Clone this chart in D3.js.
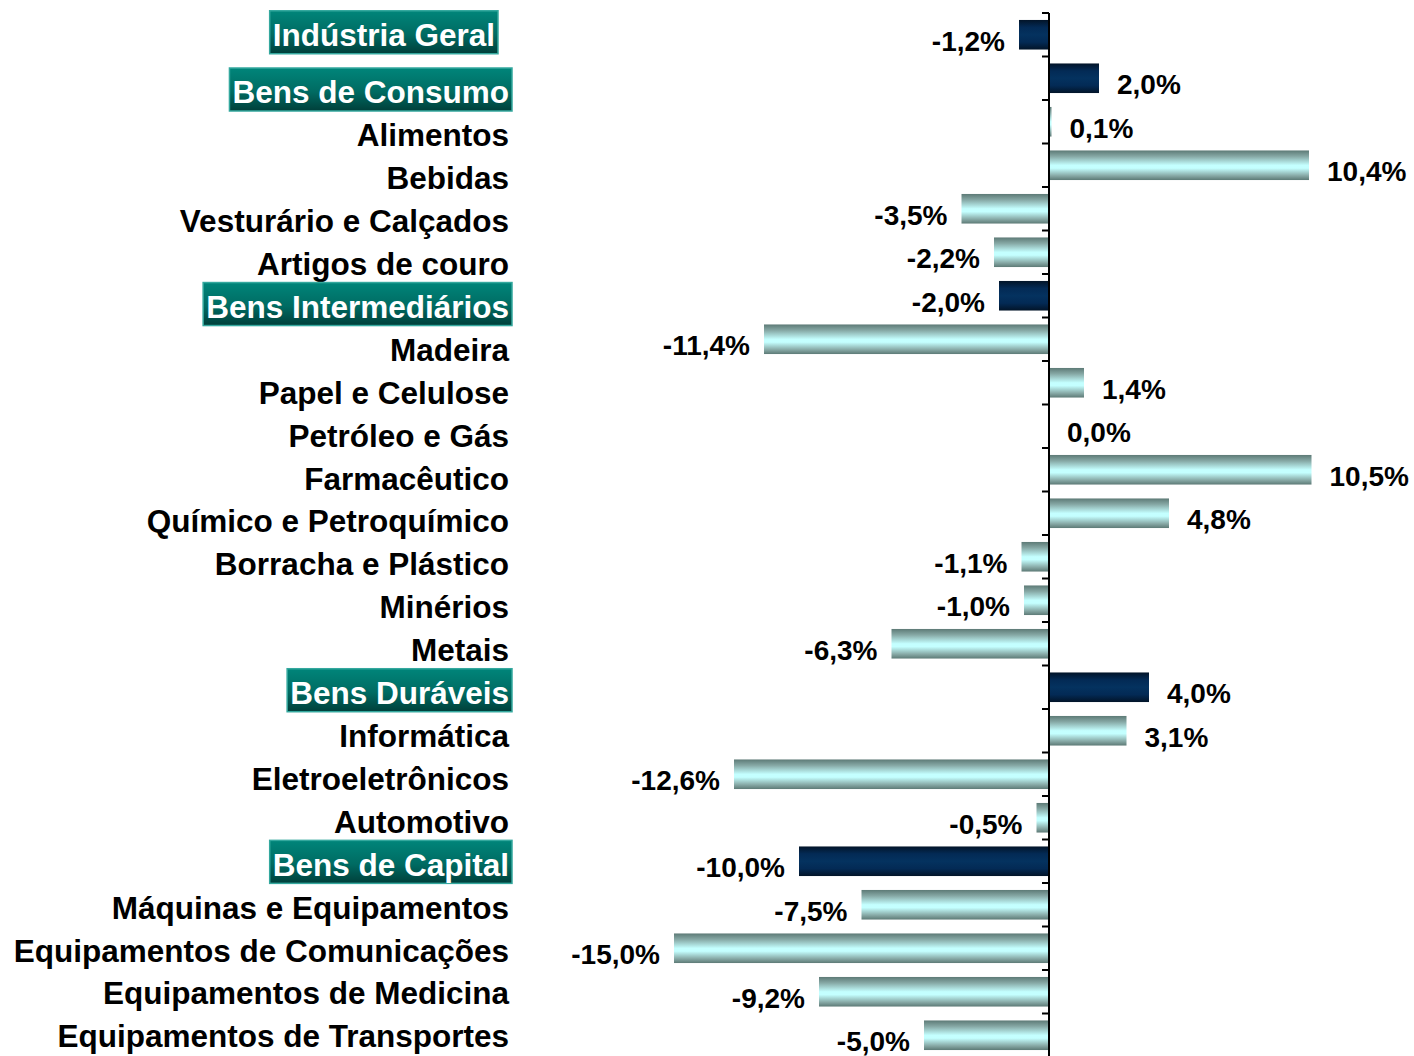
<!DOCTYPE html>
<html>
<head>
<meta charset="utf-8">
<script src="https://cdn.jsdelivr.net/npm/d3@7"></script>
<style>
  body { margin: 0; background: #fff; }
  text { font-family: "Liberation Sans", Arial, sans-serif; font-weight: bold; }
</style>
</head>
<body>
<div id="chart"></div>
<script>
// Categories, top to bottom
const categories = [
  "Indústria Geral", "Bens de Consumo", "Alimentos", "Bebidas", "Vesturário e Calçados",
  "Artigos de couro", "Bens Intermediários", "Madeira", "Papel e Celulose", "Petróleo e Gás",
  "Farmacêutico", "Químico e Petroquímico", "Borracha e Plástico", "Minérios", "Metais",
  "Bens Duráveis", "Informática", "Eletroeletrônicos", "Automotivo", "Bens de Capital",
  "Máquinas e Equipamentos", "Equipamentos de Comunicações", "Equipamentos de Medicina",
  "Equipamentos de Transportes"
];

// Variation in %
const values = [
  -1.2, 2.0, 0.1, 10.4, -3.5,
  -2.2, -2.0, -11.4, 1.4, 0.0,
  10.5, 4.8, -1.1, -1.0, -6.3,
  4.0, 3.1, -12.6, -0.5, -10.0,
  -7.5, -15.0, -9.2, -5.0
];

// Aggregate groups (highlighted boxes + dark bars)
const groups = ["Indústria Geral", "Bens de Consumo", "Bens Intermediários", "Bens Duráveis", "Bens de Capital"];

const data = categories.map((c, i) => ({ name: c, value: values[i], group: groups.includes(c) }));

const width = 1414, height = 1056;
const labelRight = 509;

const svg = d3.select("#chart").append("svg")
  .attr("width", width)
  .attr("height", height);

const defs = svg.append("defs");

function vGrad(id, stops) {
  const g = defs.append("linearGradient").attr("id", id)
    .attr("x1", 0).attr("y1", 0).attr("x2", 0).attr("y2", 1);
  stops.forEach(s => g.append("stop").attr("offset", s[0]).attr("stop-color", s[1]));
}
vGrad("gDark", [[0, "#021428"], [0.25, "#032a55"], [0.5, "#04325f"], [0.75, "#032a55"], [1, "#021428"]]);
vGrad("gLight", [[0, "#5d7a76"], [0.2, "#86a8a5"], [0.5, "#c4ffff"], [0.6, "#c4ffff"], [0.85, "#88aaa7"], [1, "#5d7a76"]]);
vGrad("gBox", [[0, "#00857a"], [0.55, "#006b62"], [1, "#003f3a"]]);

// Scales
const x = d3.scaleLinear().domain([-15, 15]).range([674, 1424]);
const y = d3.scaleBand().domain(categories)
  .range([13, 13 + 43.5 * categories.length])
  .paddingInner(0.32).paddingOuter(0.16);

// Label column sits on its own spacing (first row aligned with its bar)
const labelY = d3.scalePoint().domain(categories.slice(1)).range([92, 1036]);
const labelCenter = d => d.name === categories[0] ? y(d.name) + y.bandwidth() / 2 : labelY(d.name);

const locale = d3.formatLocale({ decimal: ",", thousands: ".", grouping: [3], currency: ["R$", ""], minus: "-" });
const fmt = locale.format(".1f");

// Bars
svg.selectAll("rect.bar")
  .data(data)
  .join("rect")
  .attr("class", "bar")
  .attr("x", d => x(Math.min(0, d.value)))
  .attr("y", d => y(d.name))
  .attr("width", d => Math.abs(x(d.value) - x(0)))
  .attr("height", y.bandwidth())
  .attr("fill", d => d.group ? "url(#gDark)" : "url(#gLight)");

// Axis line with ticks at band boundaries
const step = y.step();
const y0 = y.range()[0];
svg.append("line")
  .attr("x1", x(0)).attr("x2", x(0))
  .attr("y1", y0).attr("y2", height)
  .attr("stroke", "#000").attr("stroke-width", 2);
svg.selectAll("line.tick")
  .data(d3.range(categories.length + 1))
  .join("line")
  .attr("class", "tick")
  .attr("x1", x(0) - 7).attr("x2", x(0))
  .attr("y1", i => y0 + i * step).attr("y2", i => y0 + i * step)
  .attr("stroke", "#000").attr("stroke-width", 2);

// Value labels
svg.selectAll("text.value")
  .data(data)
  .join("text")
  .attr("class", "value")
  .attr("x", d => d.value < 0 ? x(d.value) - 14 : x(d.value) + 18)
  .attr("y", d => y(d.name) + y.bandwidth() / 2 + 6)
  .attr("dy", "0.36em")
  .attr("text-anchor", d => d.value < 0 ? "end" : "start")
  .attr("font-size", 28)
  .attr("fill", "#000")
  .text(d => fmt(d.value) + "%");

// Category labels
const lab = svg.selectAll("g.label")
  .data(data)
  .join("g")
  .attr("class", "label")
  .attr("transform", d => `translate(${d.name === categories[0] ? 495 : labelRight},${labelCenter(d)})`);

lab.append("text")
  .attr("text-anchor", "end")
  .attr("dy", "0.36em")
  .attr("font-size", 31.5)
  .attr("fill", d => d.group ? "#fff" : "#000")
  .text(d => d.name);

lab.filter(d => d.group).each(function() {
  const g = d3.select(this);
  const w = g.select("text").node().getComputedTextLength();
  g.insert("rect", "text")
    .attr("x", -w - 3)
    .attr("y", -24)
    .attr("width", w + 6)
    .attr("height", 43)
    .attr("fill", "url(#gBox)")
    .attr("stroke", "#34a89e")
    .attr("stroke-width", 1.5);
});
</script>
</body>
</html>
